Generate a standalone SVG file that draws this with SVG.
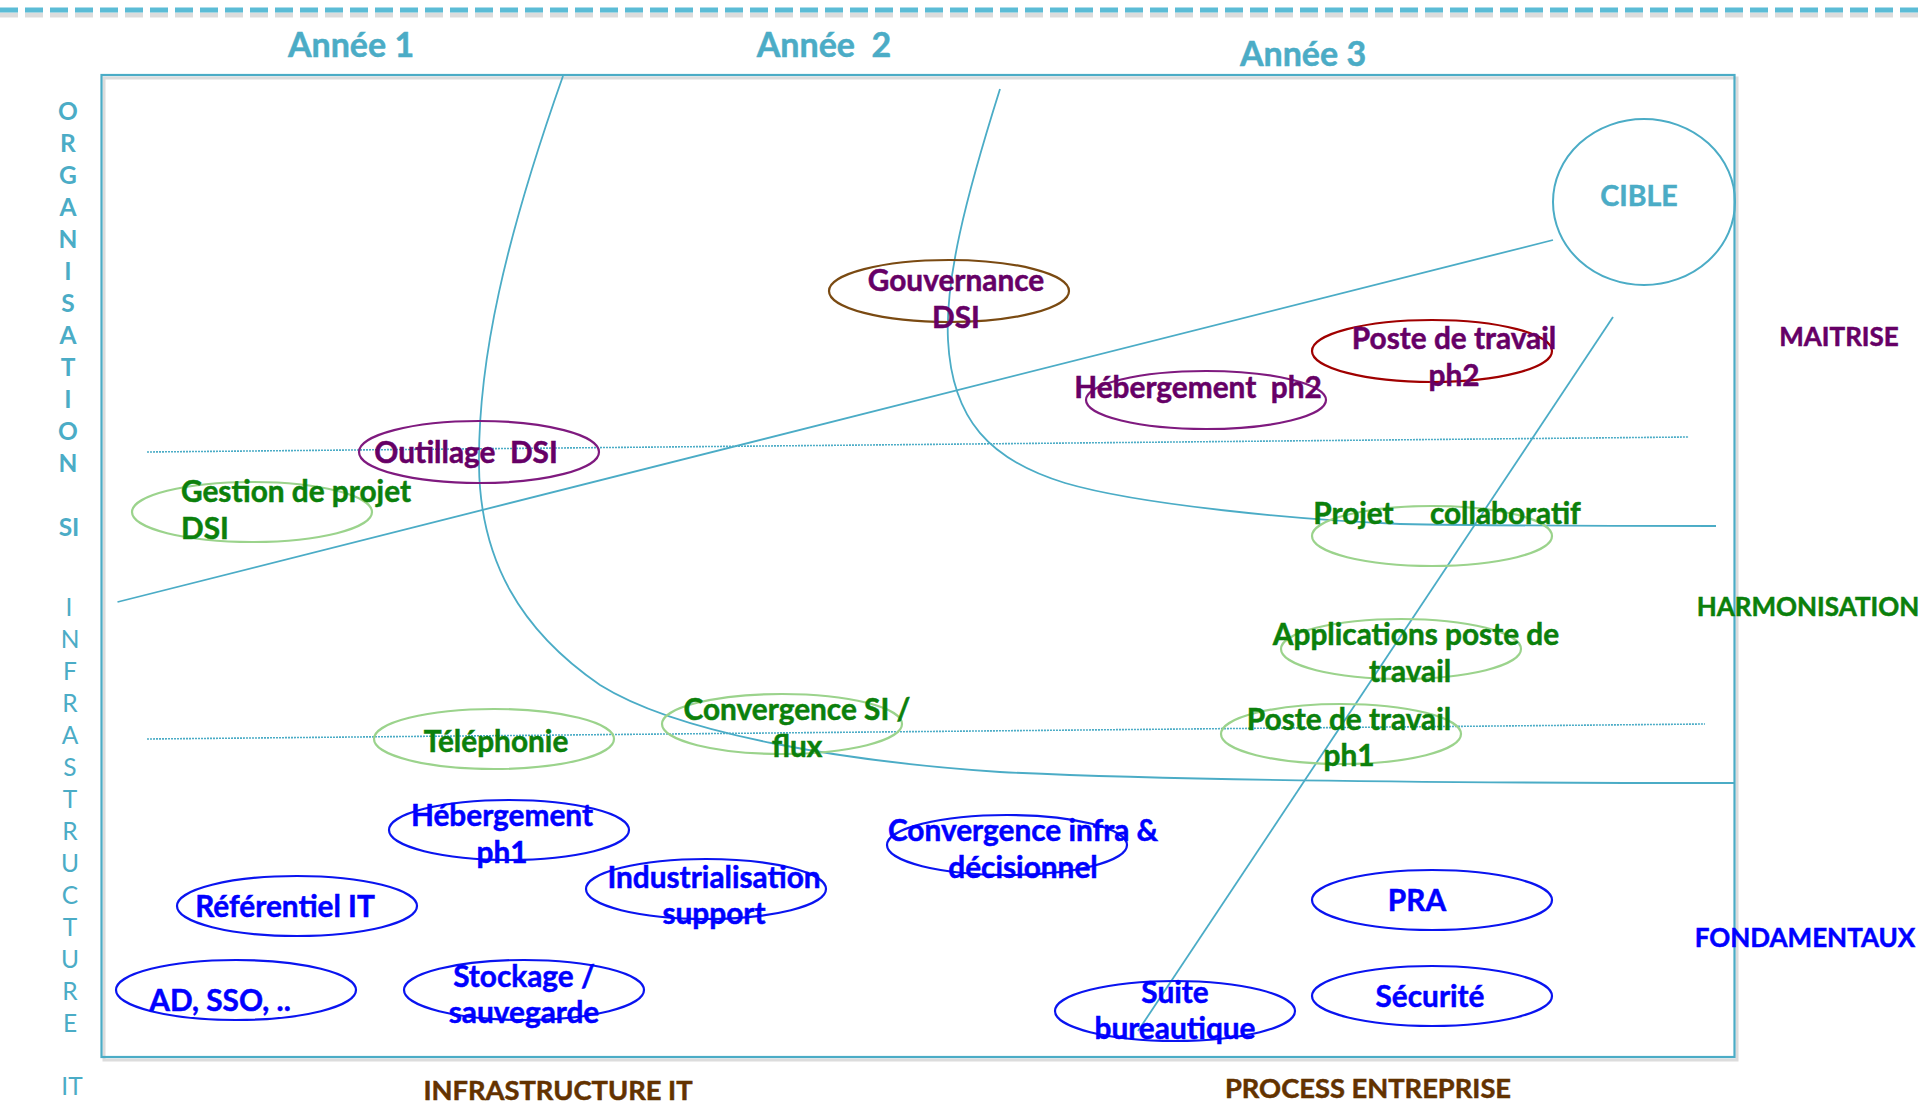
<svg xmlns="http://www.w3.org/2000/svg" width="1919" height="1106" viewBox="0 0 1919 1106">
<style>
.t{font-family:Lato,"Open Sans","Liberation Sans",sans-serif;font-weight:bold;text-anchor:middle;stroke-width:0.5}
.n{font-size:29.8px}
.purple{fill:#660066;stroke:#660066}
.green{fill:#0b800b;stroke:#0b800b}
.blue{fill:#0000ff;stroke:#0000ff}
.brown{fill:#633200;stroke:#633200}
.teal{fill:#4bacc6;stroke:#4bacc6}
.e{fill:none;stroke-width:2.2}
.eb{stroke:#0a14f0}
.eg{stroke:#9bd38c}
.ep{stroke:#7f1a7f}
.ln{fill:none;stroke:#4bacc6;stroke-width:1.8}
.dot{fill:none;stroke:#4bacc6;stroke-width:1.6;stroke-dasharray:2 1}
.vl{font-family:Lato,"Open Sans","Liberation Sans",sans-serif;font-size:24.5px;fill:#4bacc6;text-anchor:middle}
</style>
<rect width="1919" height="1106" fill="#ffffff"/>
<!-- top dashed line -->
<line x1="0" y1="15" x2="1919" y2="15" stroke="#9a9a9a" stroke-opacity="0.35" stroke-width="5" stroke-dasharray="18 7"/>
<line x1="0" y1="10" x2="1919" y2="10" stroke="#5bbcd6" stroke-width="5" stroke-dasharray="18 7"/>
<!-- frame -->
<rect x="104" y="78" width="1633" height="982" fill="none" stroke="#dcdcdc" stroke-width="3"/>
<rect x="101.5" y="75" width="1633" height="982" fill="none" stroke="#4bacc6" stroke-width="2.2"/>
<!-- year titles -->
<g id="titles" class="t teal" style="font-size:34px">
<text x="351" y="57">Année 1</text>
<text x="824" y="57" xml:space="preserve">Année  2</text>
<text x="1303" y="66">Année 3</text>
</g>
<!-- connectors / guide lines -->
<g id="connectors">
<line class="dot" x1="147" y1="452" x2="1689" y2="437"/>
<line class="dot" x1="147" y1="739" x2="1705" y2="724"/>
<line class="ln" x1="117.5" y1="602" x2="1553" y2="240"/>
<line class="ln" x1="1138" y1="1031" x2="1613" y2="317"/>
<path class="ln" d="M563,76 C505,240 478,360 479,465 C480,560 520,630 600,685 C680,735 850,762 1000,772 C1200,782 1500,783 1734,783"/>
<path class="ln" d="M1000,89 C965,200 945,280 948,340 C952,420 990,460 1065,483 C1140,505 1300,520 1400,524 C1500,526 1650,526 1716,526"/>
</g>
<!-- CIBLE -->
<g id="cible">
<ellipse cx="1644" cy="202" rx="91" ry="83" fill="none" stroke="#4bacc6" stroke-width="2"/>
<text class="t teal" style="font-size:28.5px" x="1639" y="206">CIBLE</text>
</g>
<!-- nodes -->
<g id="gouvernance-dsi">
<ellipse class="e" cx="949" cy="291" rx="120" ry="31" stroke="#7a4a12"/>
<text class="t n purple" x="956" y="291">Gouvernance</text>
<text class="t n purple" x="956" y="328">DSI</text>
</g>
<g id="poste-travail-ph2">
<ellipse class="e" cx="1432" cy="351" rx="120" ry="31" stroke="#a00000"/>
<text class="t n purple" x="1454" y="349">Poste de travail</text>
<text class="t n purple" x="1454" y="386">ph2</text>
</g>
<g id="hebergement-ph2">
<ellipse class="e ep" cx="1206" cy="400" rx="120" ry="29"/>
<text class="t n purple" x="1198" y="398" xml:space="preserve">Hébergement  ph2</text>
</g>
<g id="outillage-dsi">
<ellipse class="e ep" cx="479" cy="452" rx="120" ry="31"/>
<text class="t n purple" x="466" y="463" xml:space="preserve">Outillage  DSI</text>
</g>
<g id="gestion-projet-dsi">
<ellipse class="e eg" cx="252" cy="512" rx="120" ry="30"/>
<text class="t n green" x="181" y="502" style="text-anchor:start">Gestion de projet</text>
<text class="t n green" x="181" y="539" style="text-anchor:start">DSI</text>
</g>
<g id="projet-collaboratif">
<ellipse class="e eg" cx="1432" cy="536" rx="120" ry="30"/>
<text class="t n green" x="1447" y="524" xml:space="preserve">Projet     collaboratif</text>
</g>
<g id="applications-poste">
<ellipse class="e eg" cx="1401" cy="649" rx="120" ry="30"/>
<text class="t n green" x="1416" y="645">Applications poste de</text>
<text class="t n green" x="1410" y="682">travail</text>
</g>
<g id="poste-travail-ph1">
<ellipse class="e eg" cx="1341" cy="734" rx="120" ry="30"/>
<text class="t n green" x="1349" y="730">Poste de travail</text>
<text class="t n green" x="1349" y="766">ph1</text>
</g>
<g id="telephonie">
<ellipse class="e eg" cx="494" cy="739" rx="120" ry="30"/>
<text class="t n green" x="496" y="752">Téléphonie</text>
</g>
<g id="convergence-si-flux">
<ellipse class="e eg" cx="782" cy="724" rx="120" ry="30"/>
<text class="t n green" x="797" y="720">Convergence SI /</text>
<text class="t n green" x="797" y="757">flux</text>
</g>
<g id="hebergement-ph1">
<ellipse class="e eb" cx="509" cy="830" rx="120" ry="30"/>
<text class="t n blue" x="502" y="826">Hébergement</text>
<text class="t n blue" x="502" y="863">ph1</text>
</g>
<g id="referentiel-it">
<ellipse class="e eb" cx="297" cy="906" rx="120" ry="30"/>
<text class="t n blue" x="285" y="917">Référentiel IT</text>
</g>
<g id="industrialisation-support">
<ellipse class="e eb" cx="706" cy="889" rx="120" ry="30"/>
<text class="t n blue" x="714" y="888">Industrialisation</text>
<text class="t n blue" x="714" y="924">support</text>
</g>
<g id="convergence-infra">
<ellipse class="e eb" cx="1007" cy="845" rx="120" ry="30"/>
<text class="t n blue" x="1023" y="841">Convergence infra &amp;</text>
<text class="t n blue" x="1023" y="878">décisionnel</text>
</g>
<g id="ad-sso">
<ellipse class="e eb" cx="236" cy="990" rx="120" ry="30"/>
<text class="t n blue" x="220" y="1011">AD, SSO, ..</text>
</g>
<g id="stockage">
<ellipse class="e eb" cx="524" cy="990" rx="120" ry="30"/>
<text class="t n blue" x="524" y="987">Stockage /</text>
<text class="t n blue" x="524" y="1023">sauvegarde</text>
</g>
<g id="suite-bureautique">
<ellipse class="e eb" cx="1175" cy="1011" rx="120" ry="30"/>
<text class="t n blue" x="1175" y="1003">Suite</text>
<text class="t n blue" x="1175" y="1039">bureautique</text>
</g>
<g id="pra">
<ellipse class="e eb" cx="1432" cy="900" rx="120" ry="30"/>
<text class="t n blue" x="1417" y="911">PRA</text>
</g>
<g id="securite">
<ellipse class="e eb" cx="1432" cy="996" rx="120" ry="30"/>
<text class="t n blue" x="1430" y="1007">Sécurité</text>
</g>
<!-- side labels -->
<g id="right-labels" class="t" style="font-size:26px">
<text class="purple" x="1839" y="346">MAITRISE</text>
<text class="green" x="1808" y="616">HARMONISATION</text>
<text class="blue" x="1805" y="947">FONDAMENTAUX</text>
</g>
<g id="bottom-labels" class="t brown" style="font-size:27.3px">
<text x="558" y="1100">INFRASTRUCTURE IT</text>
<text x="1368" y="1098">PROCESS ENTREPRISE</text>
</g>
<g id="left-labels">
<g class="vl" style="font-weight:bold">
<text x="68" y="120">O</text>
<text x="68" y="152">R</text>
<text x="68" y="184">G</text>
<text x="68" y="216">A</text>
<text x="68" y="248">N</text>
<text x="68" y="280">I</text>
<text x="68" y="312">S</text>
<text x="68" y="344">A</text>
<text x="68" y="376">T</text>
<text x="68" y="408">I</text>
<text x="68" y="440">O</text>
<text x="68" y="472">N</text>
<text x="69" y="536">SI</text>
</g>
<g class="vl">
<text x="69" y="616">I</text>
<text x="70" y="648">N</text>
<text x="70" y="680">F</text>
<text x="70" y="712">R</text>
<text x="70" y="744">A</text>
<text x="70" y="776">S</text>
<text x="70" y="808">T</text>
<text x="70" y="840">R</text>
<text x="70" y="872">U</text>
<text x="70" y="904">C</text>
<text x="70" y="936">T</text>
<text x="70" y="968">U</text>
<text x="70" y="1000">R</text>
<text x="70" y="1032">E</text>
<text x="72" y="1095">IT</text>
</g>
</g>
</svg>
